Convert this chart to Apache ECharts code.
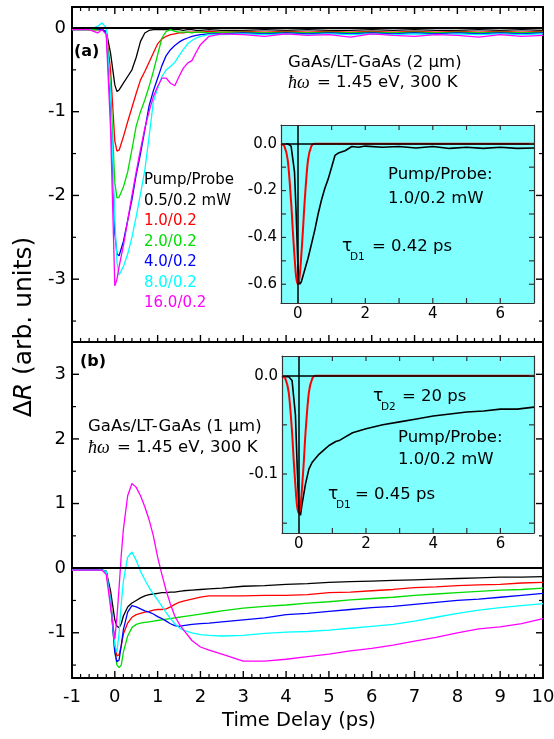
<!DOCTYPE html>
<html>
<head>
<meta charset="utf-8">
<script src="https://cdn.jsdelivr.net/npm/echarts@6/dist/echarts.min.js"></script>
<style>
  html, body { margin: 0; padding: 0; background: #fff; }
  #chart { width: 554px; height: 739px; }
</style>
</head>
<body>
<div id="chart"></div>
<script>
// ---- panel (a): GaAs/LT-GaAs (2 um), main traces ----
const tA = [-1, -0.6, -0.4, -0.3, -0.2, -0.1, 0, 0.05, 0.1, 0.2, 0.3, 0.4, 0.5, 0.6, 0.7, 0.8, 0.9, 1.0, 1.1, 1.2, 1.3, 1.4, 1.5, 1.6, 1.7, 1.8, 1.9, 2.0, 2.2, 2.5, 3, 3.5, 4, 4.5, 5, 5.5, 6, 6.5, 7, 7.5, 8, 8.5, 9, 9.5, 10];
const a05 = [-0.02, -0.02, -0.02, -0.02, -0.04, -0.3, -0.68, -0.76, -0.74, -0.66, -0.58, -0.5, -0.35, -0.16, -0.06, -0.03, -0.02, -0.02, -0.02, -0.02, -0.02, -0.02, -0.02, -0.03, -0.02, -0.02, -0.03, -0.03, -0.02, -0.03, -0.03, -0.02, -0.03, -0.02, -0.03, -0.03, -0.02, -0.03, -0.02, -0.03, -0.03, -0.02, -0.03, -0.02, -0.03];
const a10 = [-0.02, -0.02, -0.02, -0.02, -0.05, -0.5, -1.35, -1.47, -1.46, -1.3, -1.12, -0.95, -0.78, -0.62, -0.52, -0.41, -0.3, -0.19, -0.13, -0.1, -0.08, -0.07, -0.06, -0.06, -0.05, -0.05, -0.05, -0.05, -0.04, -0.05, -0.04, -0.05, -0.04, -0.05, -0.04, -0.05, -0.04, -0.05, -0.04, -0.05, -0.04, -0.05, -0.04, -0.05, -0.04];
const a20 = [-0.02, -0.02, -0.02, -0.02, -0.05, -0.7, -1.85, -2.03, -2.02, -1.9, -1.72, -1.45, -1.17, -1.0, -0.86, -0.7, -0.52, -0.32, -0.12, -0.04, -0.02, -0.04, -0.05, -0.05, -0.05, -0.06, -0.05, -0.05, -0.06, -0.05, -0.05, -0.06, -0.05, -0.06, -0.05, -0.06, -0.05, -0.06, -0.05, -0.06, -0.05, -0.06, -0.05, -0.06, -0.05];
const a40 = [-0.01, 0, -0.01, -0.02, -0.05, -0.9, -2.45, -2.7, -2.72, -2.55, -2.3, -2.05, -1.75, -1.5, -1.22, -0.93, -0.75, -0.6, -0.45, -0.33, -0.26, -0.21, -0.17, -0.14, -0.12, -0.1, -0.09, -0.08, -0.07, -0.07, -0.06, -0.07, -0.06, -0.07, -0.06, -0.07, -0.06, -0.07, -0.06, -0.07, -0.06, -0.07, -0.06, -0.07, -0.06];
const a80 = [-0.02, -0.02, 0.02, 0.06, 0.0, -0.8, -2.3, -2.8, -2.95, -2.85, -2.7, -2.5, -2.25, -1.98, -1.7, -1.3, -0.88, -0.72, -0.58, -0.5, -0.46, -0.41, -0.33, -0.26, -0.19, -0.15, -0.12, -0.1, -0.08, -0.08, -0.07, -0.08, -0.07, -0.08, -0.07, -0.08, -0.07, -0.08, -0.07, -0.08, -0.07, -0.08, -0.07, -0.08, -0.07];
const a160 = [-0.02, -0.02, -0.06, -0.02, -0.08, -1.2, -3.08, -3.0, -2.85, -2.6, -2.3, -2.0, -1.72, -1.45, -1.2, -1.0, -0.82, -0.7, -0.6, -0.6, -0.66, -0.69, -0.58, -0.48, -0.42, -0.39, -0.29, -0.2, -0.1, -0.07, -0.08, -0.1, -0.07, -0.09, -0.08, -0.11, -0.07, -0.09, -0.1, -0.08, -0.09, -0.11, -0.08, -0.1, -0.09];

// ---- panel (b): GaAs/LT-GaAs (1 um), main traces ----
const tB = [-1, -0.6, -0.3, -0.2, -0.1, 0, 0.05, 0.1, 0.15, 0.2, 0.3, 0.4, 0.5, 0.6, 0.7, 0.8, 0.9, 1.0, 1.1, 1.2, 1.3, 1.4, 1.5, 1.6, 1.8, 2.0, 2.2, 2.5, 3, 3.5, 4, 4.5, 5, 5.5, 6, 6.5, 7, 7.5, 8, 8.5, 9, 9.5, 10];
const b05 = [-0.03, -0.03, -0.03, -0.05, -0.35, -0.8, -0.9, -0.92, -0.86, -0.74, -0.6, -0.54, -0.5, -0.46, -0.43, -0.41, -0.4, -0.39, -0.38, -0.38, -0.37, -0.37, -0.36, -0.35, -0.34, -0.33, -0.32, -0.31, -0.28, -0.27, -0.25, -0.24, -0.22, -0.21, -0.2, -0.19, -0.18, -0.17, -0.16, -0.15, -0.14, -0.14, -0.13];
const b10 = [-0.03, -0.03, -0.03, -0.05, -0.45, -1.2, -1.36, -1.34, -1.2, -1.02, -0.85, -0.76, -0.72, -0.7, -0.68, -0.67, -0.65, -0.64, -0.64, -0.63, -0.6, -0.56, -0.53, -0.51, -0.48, -0.45, -0.43, -0.43, -0.43, -0.42, -0.42, -0.41, -0.38, -0.37, -0.35, -0.33, -0.3, -0.29, -0.27, -0.26, -0.25, -0.23, -0.22];
const b20 = [-0.03, -0.03, -0.03, -0.05, -0.5, -1.3, -1.5, -1.54, -1.5, -1.3, -1.05, -0.92, -0.87, -0.85, -0.84, -0.83, -0.82, -0.81, -0.8, -0.79, -0.78, -0.77, -0.76, -0.75, -0.73, -0.71, -0.69, -0.66, -0.62, -0.59, -0.57, -0.54, -0.52, -0.49, -0.47, -0.45, -0.42, -0.4, -0.38, -0.36, -0.34, -0.33, -0.31];
const b40 = [-0.03, -0.03, -0.03, -0.05, -0.5, -1.3, -1.45, -1.42, -1.2, -0.95, -0.68, -0.58, -0.6, -0.63, -0.66, -0.68, -0.71, -0.75, -0.78, -0.82, -0.86, -0.89, -0.9, -0.89, -0.87, -0.86, -0.85, -0.83, -0.8, -0.77, -0.72, -0.7, -0.67, -0.64, -0.61, -0.59, -0.56, -0.53, -0.5, -0.48, -0.45, -0.42, -0.39];
const b80 = [-0.03, -0.03, -0.03, -0.05, -0.5, -1.2, -1.3, -1.0, -0.55, -0.2, 0.17, 0.25, 0.12, -0.05, -0.18, -0.3, -0.4, -0.49, -0.59, -0.69, -0.78, -0.86, -0.92, -0.96, -1.0, -1.03, -1.04, -1.05, -1.04, -1.01, -0.99, -0.98, -0.96, -0.93, -0.9, -0.87, -0.82, -0.76, -0.7, -0.65, -0.61, -0.58, -0.55];
const b160 = [-0.03, -0.03, -0.03, -0.1, -0.6, -1.1, -0.75, -0.3, 0.2, 0.6, 1.12, 1.31, 1.25, 1.12, 0.95, 0.75, 0.5, 0.17, -0.1, -0.35, -0.56, -0.74, -0.86, -0.95, -1.12, -1.22, -1.27, -1.33, -1.44, -1.44, -1.41, -1.37, -1.33, -1.28, -1.24, -1.19, -1.13, -1.07, -1.0, -0.94, -0.91, -0.86, -0.78];

// ---- insets: 1.0/0.2 mW data and fit ----
const tIn = [-0.5, -0.3, -0.2, -0.1, -0.05, 0, 0.05, 0.1, 0.2, 0.3, 0.4, 0.5, 0.6, 0.7, 0.8, 0.9, 1.0, 1.1, 1.2, 1.4, 1.6, 1.8, 2.0, 2.5, 3, 3.5, 4, 4.5, 5, 5.5, 6, 6.5, 7];
const inAData = [0, 0, -0.01, -0.12, -0.3, -0.52, -0.6, -0.59, -0.54, -0.49, -0.43, -0.37, -0.3, -0.24, -0.19, -0.15, -0.1, -0.05, -0.04, -0.03, -0.012, -0.015, -0.01, -0.015, -0.012, -0.018, -0.012, -0.02, -0.015, -0.02, -0.015, -0.02, -0.018];
const inBData = [-0.001, -0.001, -0.005, -0.04, -0.09, -0.135, -0.142, -0.13, -0.11, -0.095, -0.088, -0.084, -0.08, -0.077, -0.074, -0.071, -0.069, -0.067, -0.066, -0.062, -0.058, -0.056, -0.054, -0.05, -0.047, -0.044, -0.041, -0.039, -0.037, -0.036, -0.034, -0.034, -0.032];
const tFit = [-0.5, -0.4, -0.3, -0.2, -0.15, -0.1, -0.05, 0, 0.05, 0.1, 0.15, 0.2, 0.3, 0.4, 0.5, 7];
const inAFit = [0, -0.01, -0.07, -0.25, -0.37, -0.48, -0.57, -0.6, -0.57, -0.48, -0.37, -0.25, -0.07, -0.01, 0, 0];
const inBFit = [0, -0.003, -0.017, -0.058, -0.087, -0.112, -0.133, -0.14, -0.133, -0.112, -0.087, -0.058, -0.017, -0.003, 0, 0];

// tick positions and labels
const xMajor = [-1, 0, 1, 2, 3, 4, 5, 6, 7, 8, 9, 10];
const xMinor = [];
xMajor.slice(0, -1).forEach(k => { [0.2, 0.4, 0.6, 0.8].forEach(f => xMinor.push(+(k + f).toFixed(1))); });
const yMajorA = [-3, -2, -1, 0];
const yMinorA = [-3.5, -2.5, -1.5, -0.5];
const yMajorB = [-1, 0, 1, 2, 3];
const yMinorB = [-1.5, -0.5, 0.5, 1.5, 2.5];
const inXTicks = [0, 1, 2, 3, 4, 5, 6];
const inXLabels = [0, 2, 4, 6];
const inYTicksA = [0, -0.1, -0.2, -0.3, -0.4, -0.5, -0.6];
const inYLabelsA = [0, -0.2, -0.4, -0.6];
const inYTicksB = [0, -0.05, -0.1, -0.15];
const inYLabelsB = [0, -0.1];

const legendNames = ['0.5/0.2 mW', '1.0/0.2', '2.0/0.2', '4.0/0.2', '8.0/0.2', '16.0/0.2'];
const colors = ['#000000', '#ff0000', '#00dd00', '#0000ff', '#00ffff', '#ff00ff'];

const FONT = '"DejaVu Sans", sans-serif';
const chart = echarts.init(document.getElementById('chart'));

function pairs(xs, ys) { return xs.map((x, i) => [x, ys[i]]); }

// one axis per side of each grid; tick marks are drawn by tickSeries below
function axis(gi, pos, min, max, interval, o) {
  o = o || {};
  const color = o.lineColor || '#000';
  const label = { show: !!o.labels, margin: o.margin || 8,
    fontSize: o.fontSize || 18, fontFamily: FONT, color: '#000' };
  if (o.labelValues) label.customValues = o.labelValues;
  if (o.fmt) label.formatter = o.fmt;
  return {
    type: 'value', gridIndex: gi, position: pos, min: min, max: max, interval: interval,
    axisLine: { show: true, onZero: false, lineStyle: { color: color, width: o.lineWidth || 2 } },
    axisTick: { show: false },
    minorTick: { show: false },
    axisLabel: label,
    splitLine: { show: false }
  };
}

// inward tick marks placed through the axis scales
function tickSeries(xi, yi, side, values, ref, len, color, width) {
  const horiz = side === 'bottom' || side === 'top';
  return {
    type: 'custom', xAxisIndex: xi, yAxisIndex: yi, z: 6, silent: true, clip: false,
    data: values.map(v => (horiz ? [v, ref] : [ref, v])),
    renderItem: function (params, api) {
      const cs = params.coordSys;
      const p = api.coord([api.value(0), api.value(1)]);
      let x1, y1, x2, y2;
      if (side === 'bottom') { x1 = x2 = p[0]; y1 = cs.y + cs.height; y2 = y1 - len; }
      else if (side === 'top') { x1 = x2 = p[0]; y1 = cs.y; y2 = y1 + len; }
      else if (side === 'left') { y1 = y2 = p[1]; x1 = cs.x; x2 = x1 + len; }
      else { y1 = y2 = p[1]; x1 = cs.x + cs.width; x2 = x1 - len; }
      return { type: 'line', shape: { x1: x1, y1: y1, x2: x2, y2: y2 },
        style: { stroke: color, lineWidth: width } };
    }
  };
}

const fmt0 = v => String(Math.round(v));
const fmt1 = v => (Math.abs(v) < 1e-9 ? 0 : v).toFixed(1);

const gridBase = { containLabel: false, outerBoundsMode: 'none' };
const insetGrid = { show: true, backgroundColor: '#80ffff', borderWidth: 0 };
const inSty = { lineColor: '#333', lineWidth: 1.2 };

const option = {
  animation: false,
  backgroundColor: '#fff',
  grid: [
    Object.assign({ left: 72, right: 11, top: 7, height: 335 }, gridBase),
    Object.assign({ left: 72, right: 11, top: 342, height: 336 }, gridBase),
    Object.assign({ left: 281, right: 20, top: 125, height: 178 }, gridBase, insetGrid),
    Object.assign({ left: 282, right: 20, top: 356, height: 177 }, gridBase, insetGrid)
  ],
  xAxis: [
    axis(0, 'bottom', -1, 10, 1, {}),
    axis(0, 'top', -1, 10, 1, {}),
    axis(1, 'bottom', -1, 10, 1, { labels: true, margin: 10 }),
    axis(1, 'top', -1, 10, 1, {}),
    axis(2, 'bottom', -0.5, 7, 0.5, Object.assign({ labels: true, labelValues: inXLabels, margin: 4, fontSize: 15 }, inSty)),
    axis(2, 'top', -0.5, 7, 0.5, inSty),
    axis(3, 'bottom', -0.5, 7, 0.5, Object.assign({ labels: true, labelValues: inXLabels, margin: 4, fontSize: 15 }, inSty)),
    axis(3, 'top', -0.5, 7, 0.5, inSty)
  ],
  yAxis: [
    axis(0, 'left', -3.75, 0.25, 0.25, { labels: true, labelValues: yMajorA, fmt: fmt0, margin: 6 }),
    axis(0, 'right', -3.75, 0.25, 0.25, {}),
    axis(1, 'left', -1.7, 3.5, 0.1, { labels: true, labelValues: yMajorB, fmt: fmt0, margin: 6 }),
    axis(1, 'right', -1.7, 3.5, 0.1, {}),
    axis(2, 'left', -0.68, 0.08, 0.04, Object.assign({ labels: true, labelValues: inYLabelsA, fmt: fmt1, fontSize: 15, margin: 4 }, inSty)),
    axis(2, 'right', -0.68, 0.08, 0.04, inSty),
    axis(3, 'left', -0.16, 0.02, 0.02, Object.assign({ labels: true, labelValues: inYLabelsB, fmt: fmt1, fontSize: 15, margin: 4 }, inSty)),
    axis(3, 'right', -0.16, 0.02, 0.02, inSty)
  ],
  series: []
};

const zeroLine = { silent: true, symbol: 'none', label: { show: false },
  lineStyle: { color: '#000', width: 2, type: 'solid' }, data: [{ yAxis: 0 }] };

const panelA = [a05, a10, a20, a40, a80, a160];
const panelB = [b05, b10, b20, b40, b80, b160];
panelA.forEach((vals, i) => {
  option.series.push({
    type: 'line', name: legendNames[i], xAxisIndex: 0, yAxisIndex: 0,
    data: pairs(tA, vals), showSymbol: false,
    lineStyle: { color: colors[i], width: 1.3 },
    markLine: i === 0 ? zeroLine : undefined
  });
});
panelB.forEach((vals, i) => {
  option.series.push({
    type: 'line', name: legendNames[i], xAxisIndex: 2, yAxisIndex: 2,
    data: pairs(tB, vals), showSymbol: false,
    lineStyle: { color: colors[i], width: 1.3 },
    markLine: i === 0 ? zeroLine : undefined
  });
});

const insetLines = { silent: true, symbol: 'none', label: { show: false },
  lineStyle: { color: '#000', width: 1.5, type: 'solid' }, data: [{ xAxis: 0 }, { yAxis: 0 }] };
[[4, 4, inAData, inAFit], [6, 6, inBData, inBFit]].forEach(([xi, yi, d, f]) => {
  option.series.push({
    type: 'line', xAxisIndex: xi, yAxisIndex: yi, data: pairs(tIn, d), showSymbol: false,
    lineStyle: { color: '#000', width: 1.6 }, markLine: insetLines, z: 3
  });
  option.series.push({
    type: 'line', xAxisIndex: xi, yAxisIndex: yi, data: pairs(tFit, f), showSymbol: false, smooth: 0.3,
    lineStyle: { color: '#ff0000', width: 2 }, z: 4
  });
});

// tick marks: main panels
option.series.push(
  tickSeries(0, 0, 'bottom', xMajor, -3.75, 7, '#000', 1.4),
  tickSeries(0, 0, 'bottom', xMinor, -3.75, 4, '#000', 1.2),
  tickSeries(1, 0, 'top', xMajor, -3.75, 7, '#000', 1.4),
  tickSeries(1, 0, 'top', xMinor, -3.75, 4, '#000', 1.2),
  tickSeries(0, 0, 'left', yMajorA, -1, 7, '#000', 1.4),
  tickSeries(0, 0, 'left', yMinorA, -1, 4, '#000', 1.2),
  tickSeries(0, 1, 'right', yMajorA, -1, 7, '#000', 1.4),
  tickSeries(0, 1, 'right', yMinorA, -1, 4, '#000', 1.2),
  tickSeries(2, 2, 'bottom', xMajor, -1.7, 7, '#000', 1.4),
  tickSeries(2, 2, 'bottom', xMinor, -1.7, 4, '#000', 1.2),
  tickSeries(2, 2, 'left', yMajorB, -1, 7, '#000', 1.4),
  tickSeries(2, 2, 'left', yMinorB, -1, 4, '#000', 1.2),
  tickSeries(2, 3, 'right', yMajorB, -1, 7, '#000', 1.4),
  tickSeries(2, 3, 'right', yMinorB, -1, 4, '#000', 1.2),
  // insets
  tickSeries(4, 4, 'bottom', inXTicks, -0.68, 5, '#333', 1.2),
  tickSeries(5, 4, 'top', inXTicks, -0.68, 5, '#333', 1.2),
  tickSeries(4, 4, 'left', inYTicksA, -0.5, 5, '#333', 1.2),
  tickSeries(4, 5, 'right', inYTicksA, -0.5, 5, '#333', 1.2),
  tickSeries(6, 6, 'bottom', inXTicks, -0.16, 5, '#333', 1.2),
  tickSeries(7, 6, 'top', inXTicks, -0.16, 5, '#333', 1.2),
  tickSeries(6, 6, 'left', inYTicksB, -0.5, 5, '#333', 1.2),
  tickSeries(6, 7, 'right', inYTicksB, -0.5, 5, '#333', 1.2)
);

function txt(x, y, text, size, color, extra) {
  return {
    type: 'text', x: x, y: y, z: 100,
    style: Object.assign({ text: text, fontSize: size, fontFamily: FONT, fill: color || '#000',
      textVerticalAlign: 'middle', verticalAlign: 'middle' }, extra || {})
  };
}
const serifIt = { fontFamily: '"Liberation Serif", serif', fontStyle: 'italic' };

option.graphic = [
  txt(74, 52, '(a)', 16, '#000', { fontWeight: 'bold' }),
  txt(80, 362, '(b)', 16, '#000', { fontWeight: 'bold' }),
  txt(288, 63, 'GaAs/LT-GaAs (2 μm)', 16.5),
  txt(288, 83, 'ħω', 18, '#000', serifIt),
  txt(317, 83, '= 1.45 eV, 300 K', 16.5),
  txt(88, 427, 'GaAs/LT-GaAs (1 μm)', 16.5),
  txt(88, 448, 'ħω', 18, '#000', serifIt),
  txt(117, 448, '= 1.45 eV, 300 K', 16.5),
  txt(144, 180, 'Pump/Probe', 15),
  txt(388, 175, 'Pump/Probe:', 16.5),
  txt(388, 199, '1.0/0.2 mW', 16.5),
  txt(342, 247, 'τ', 17),
  txt(350, 257, 'D1', 10.5),
  txt(372, 247, '= 0.42 ps', 16.5),
  txt(373, 397, 'τ', 17),
  txt(381, 407, 'D2', 10.5),
  txt(402, 397, '= 20 ps', 16.5),
  txt(398, 438, 'Pump/Probe:', 16.5),
  txt(398, 460, '1.0/0.2 mW', 16.5),
  txt(328, 495, 'τ', 17),
  txt(336, 505, 'D1', 10.5),
  txt(355, 495, '= 0.45 ps', 16.5),
  txt(299, 721, 'Time Delay (ps)', 19.5, '#000', { textAlign: 'center', align: 'center' }),
  {
    type: 'text', x: 24, y: 327, rotation: Math.PI / 2, z: 100,
    style: {
      text: '{n|Δ}{i|R}{n| (arb. units)}', textAlign: 'center', align: 'center',
      textVerticalAlign: 'middle', verticalAlign: 'middle', fill: '#000',
      rich: {
        n: { fontSize: 25, fontFamily: FONT, fill: '#000' },
        i: { fontSize: 25, fontFamily: FONT, fontStyle: 'italic', fill: '#000' }
      }
    }
  }
];
legendNames.forEach((name, i) => {
  option.graphic.push(txt(144, 201 + i * 20.5, name, 15, colors[i]));
});

chart.setOption(option);
</script>
</body>
</html>
